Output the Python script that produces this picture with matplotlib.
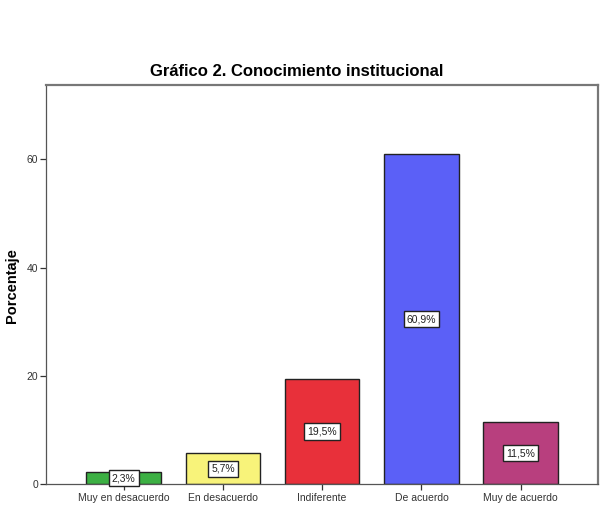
import matplotlib.pyplot as plt

plt.rcParams['font.family'] = ['Liberation Sans', 'DejaVu Sans']

categorias = ['Muy en desacuerdo', 'En desacuerdo', 'Indiferente', 'De acuerdo', 'Muy de acuerdo']
porcentajes = [2.3, 5.7, 19.5, 60.9, 11.5]
etiquetas = ['2,3%', '5,7%', '19,5%', '60,9%', '11,5%']
colores = ['#3cb043', '#f8f37a', '#e8303a', '#5b60f7', '#b83f7e']

fig = plt.figure(figsize=(6.08, 5.19), dpi=100)
ax = fig.add_axes([46.3 / 608, 1 - 484.3 / 519, (598 - 46.3) / 608, (484.3 - 85) / 519])

x = range(len(categorias))
ax.bar(x, porcentajes, width=0.75, color=colores, edgecolor='#222222', linewidth=1.0, zorder=2)

for i, (v, t) in enumerate(zip(porcentajes, etiquetas)):
    ax.text(i, v / 2, t, ha='center', va='center', fontsize=7.5, color='#222222', zorder=3,
            bbox=dict(boxstyle='square,pad=0.3', facecolor='white', edgecolor='#222222', linewidth=1.0))

ax.set_xlim(-0.78, 4.78)
ax.set_ylim(0, 73.7)
ax.set_yticks([0, 20, 40, 60])
ax.set_xticks(list(x))
ax.set_xticklabels(categorias)
ax.tick_params(axis='both', labelsize=7.5, colors='#333333', length=4, width=0.9, pad=2)

for s in ['top', 'right']:
    ax.spines[s].set_color('#777777')
    ax.spines[s].set_linewidth(1.6)
for s in ['left', 'bottom']:
    ax.spines[s].set_color('#555555')
    ax.spines[s].set_linewidth(0.9)

fig.text(12 / 608, 1 - 286 / 519, 'Porcentaje', rotation=90, ha='center', va='center',
         fontsize=10.5, fontweight='bold')
fig.text(297 / 608, 1 - 72 / 519, 'Gráfico 2. Conocimiento institucional',
         ha='center', va='center', fontsize=12, fontweight='bold')

fig.savefig('out.png', dpi=100)
